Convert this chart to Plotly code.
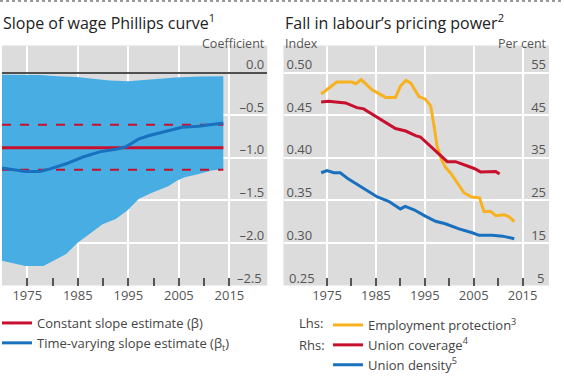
import plotly.graph_objects as go

# ---------------- Data ----------------
# Left panel: slope of wage Phillips curve
tv_years = [1970, 1972, 1974.6, 1977.5, 1979.5, 1982.7, 1986, 1989.3, 1992.5, 1994.5, 1997, 1999, 2002.3, 2005.6, 2008.9, 2012, 2013.8]
tv_vals = [-1.12, -1.14, -1.16, -1.16, -1.13, -1.07, -0.99, -0.93, -0.90, -0.87, -0.78, -0.74, -0.69, -0.64, -0.63, -0.60, -0.59]

band_upper_years = [1970, 1977.6, 1981, 1984.7, 1988, 1991.3, 1995, 1997.1, 2001, 2004.3, 2009, 2013.8]
band_upper_vals = [-0.025, -0.027, -0.04, -0.05, -0.07, -0.09, -0.10, -0.09, -0.07, -0.055, -0.045, -0.04]

band_lower_years = [1970, 1972, 1974.6, 1978.2, 1980.1, 1982.7, 1984.9, 1987.3, 1989.9, 1992.5, 1994.8, 1997.1, 1999.7, 2003, 2004.6, 2006, 2008.9, 2011.5, 2013.8]
band_lower_vals = [-2.21, -2.24, -2.27, -2.27, -2.21, -2.13, -2.0, -1.90, -1.78, -1.72, -1.62, -1.48, -1.41, -1.33, -1.27, -1.23, -1.19, -1.15, -1.13]

const_years = [1970, 2013.8]
const_beta = -0.88
const_upper = -0.61
const_lower = -1.14

# Right panel: labour's pricing power
ep_years = [1973.8, 1975.3, 1977, 1980.1, 1980.9, 1982, 1984.2, 1987, 1989, 1990, 1991.1, 1992.1, 1993.8, 1995.1, 1996.2, 1996.9, 1997.5, 1998.4, 1999.2, 2000.3, 2001.6, 2003, 2004.6, 2006.2, 2007.1, 2008.5, 2009.5, 2011.2, 2012.2, 2013.3]
ep_vals = [0.475, 0.482, 0.489, 0.489, 0.487, 0.492, 0.480, 0.471, 0.471, 0.484, 0.491, 0.488, 0.472, 0.469, 0.461, 0.437, 0.414, 0.398, 0.389, 0.382, 0.371, 0.359, 0.354, 0.353, 0.337, 0.337, 0.332, 0.333, 0.331, 0.325]

uc_years = [1973.8, 1975.3, 1978.8, 1981.1, 1982.5, 1985.6, 1989, 1991.1, 1993.1, 1994.1, 1995.8, 1997.9, 1999.6, 2001.3, 2003, 2005.1, 2006.4, 2008.1, 2009.5, 2010.3]
uc_vals = [48.1, 48.3, 47.9, 46.8, 46.5, 44.4, 41.9, 41.3, 40.2, 39.9, 38.1, 35.8, 34.1, 34.1, 33.4, 32.5, 31.7, 31.8, 31.8, 31.2]

ud_years = [1973.8, 1975, 1976.4, 1977.7, 1979.4, 1982.5, 1985.3, 1987.6, 1990, 1991, 1992.8, 1995.1, 1997.2, 1999.2, 2002, 2004.7, 2006.1, 2008.8, 2010.9, 2013.3]
ud_vals = [31.5, 32.0, 31.5, 31.5, 30.0, 27.8, 25.8, 24.8, 23.0, 23.6, 22.8, 21.3, 20.1, 19.5, 18.3, 17.4, 16.8, 16.8, 16.6, 16.0]

left_yticks = [0.0, -0.5, -1.0, -1.5, -2.0, -2.5]
left_yticktext = ["0.0", "–0.5", "–1.0", "–1.5", "–2.0", "–2.5"]
right_lticks = [0.50, 0.45, 0.40, 0.35, 0.30, 0.25]
right_lticktext = ["0.50", "0.45", "0.40", "0.35", "0.30", "0.25"]
right_rticks = [55, 45, 35, 25, 15, 5]

# ---------------- Style ----------------
FONT = "Open Sans"
BAND = "rgb(72,173,226)"
BLUE = "rgb(24,112,190)"
RED = "rgb(200,16,46)"
ORANGE = "rgb(248,178,32)"
BG = "#DCDCDC"
TXT = "#444444"
AX = "#555555"

W, H = 564, 380
def px(x):
    return x / W
def py(y):
    return 1 - y / H

fig = go.Figure()

# band
fig.add_trace(go.Scatter(
    x=band_upper_years + band_lower_years[::-1],
    y=band_upper_vals + band_lower_vals[::-1],
    fill="toself", fillcolor=BAND, line=dict(width=0), mode="lines",
    showlegend=False, hoverinfo="skip", xaxis="x", yaxis="y"))

# constant slope with dashed bounds
for v in (const_upper, const_lower):
    fig.add_trace(go.Scatter(x=const_years, y=[v, v], mode="lines",
                             line=dict(color=RED, width=2, dash="dash"),
                             showlegend=False, xaxis="x", yaxis="y"))
fig.add_trace(go.Scatter(x=const_years, y=[const_beta, const_beta], mode="lines",
                         line=dict(color=RED, width=3),
                         name="Constant slope estimate (β)", legend="legend",
                         xaxis="x", yaxis="y"))
fig.add_trace(go.Scatter(x=tv_years, y=tv_vals, mode="lines",
                         line=dict(color=BLUE, width=3),
                         name="Time-varying slope estimate (β<sub>t</sub>)", legend="legend",
                         xaxis="x", yaxis="y"))

# right panel
fig.add_trace(go.Scatter(x=ep_years, y=ep_vals, mode="lines",
                         line=dict(color=ORANGE, width=3),
                         name="Employment protection<sup>3</sup>", legend="legend2",
                         xaxis="x2", yaxis="y2"))
fig.add_trace(go.Scatter(x=uc_years, y=uc_vals, mode="lines",
                         line=dict(color=RED, width=3),
                         name="Union coverage<sup>4</sup>", legend="legend2",
                         xaxis="x2", yaxis="y3"))
fig.add_trace(go.Scatter(x=ud_years, y=ud_vals, mode="lines",
                         line=dict(color=BLUE, width=3),
                         name="Union density<sup>5</sup>", legend="legend2",
                         xaxis="x2", yaxis="y3"))

ydom = [py(285.5), py(45.5)]
tickfont = dict(family=FONT, size=13, color=AX)
SHIFT = -8

xcommon = dict(showline=False, zeroline=False, gridcolor="white", gridwidth=1.5,
               ticks="inside", ticklen=8, tickwidth=1.5, tickcolor=AX,
               dtick=10, tick0=1975, tickfont=tickfont, automargin=False,
               minor=dict(dtick=5, tick0=1970, ticks="inside", ticklen=8,
                          tickwidth=1.5, tickcolor=AX, showgrid=False))

fig.update_layout(
    width=W, height=H, margin=dict(l=0, r=0, t=0, b=0, autoexpand=False),
    paper_bgcolor="white", plot_bgcolor=BG,
    font=dict(family=FONT, color=TXT),
    xaxis=dict(domain=[px(2), px(267.3)], anchor="y", range=[1970, 2022.5], **xcommon),
    yaxis=dict(domain=ydom, anchor="x", side="right", range=[-2.5, 0.32],
               tickvals=left_yticks[:-1], ticktext=left_yticktext[:-1], automargin=False,
               ticklabelposition="inside", ticklabelshift=SHIFT, ticks="",
               gridcolor="white", gridwidth=1.5, tickfont=tickfont,
               zeroline=True, zerolinecolor="#505050", zerolinewidth=2, showline=False),
    xaxis2=dict(domain=[px(283.5), px(549)], anchor="y2", range=[1966.1, 2020.4], **xcommon),
    yaxis2=dict(domain=ydom, anchor="x2", side="left", range=[0.25, 0.532],
                tickvals=right_lticks[:-1], ticktext=right_lticktext[:-1], automargin=False,
                ticklabelposition="inside", ticklabelshift=SHIFT, ticks="",
                gridcolor="white", gridwidth=1.5, tickfont=tickfont,
                zeroline=False, showline=False),
    yaxis3=dict(overlaying="y2", anchor="x2", side="right", range=[5, 61.4],
                tickvals=right_rticks[:-1], ticklabelposition="inside", ticklabelshift=SHIFT,
                automargin=False,
                ticks="", showgrid=False, zeroline=False, showline=False, tickfont=tickfont),
    legend=dict(x=px(-3), y=py(308), xanchor="left", yanchor="top",
                bgcolor="rgba(0,0,0,0)", font=dict(family=FONT, size=13, color=TXT),
                tracegroupgap=0, itemwidth=30),
    legend2=dict(x=px(328), y=0, xanchor="left", yanchor="bottom",
                 bgcolor="rgba(0,0,0,0)", font=dict(family=FONT, size=13, color=TXT),
                 tracegroupgap=0, itemwidth=30),
)

ann = [
    dict(text="Slope of wage Phillips curve<sup>1</sup>", x=px(1), y=py(22), xanchor="left",
         font=dict(size=16, color="#222222")),
    dict(text="Fall in labour’s pricing power<sup>2</sup>", x=px(283), y=py(22), xanchor="left",
         font=dict(size=16, color="#222222")),
    dict(text="Coefficient", x=px(267), y=py(43), xanchor="right", font=dict(size=12.5, color=AX)),
    dict(text="Index", x=px(283), y=py(43), xanchor="left", font=dict(size=12.5, color=AX)),
    dict(text="Per cent", x=px(549), y=py(43), xanchor="right", font=dict(size=12.5, color=AX)),
    dict(text="Lhs:", x=px(297), y=py(323), xanchor="left", font=dict(size=13, color=TXT)),
    dict(text="Rhs:", x=px(297), y=py(345), xanchor="left", font=dict(size=13, color=TXT)),
]
for a in ann:
    a.update(xref="paper", yref="paper", yanchor="middle", showarrow=False,
             font=dict(family=FONT, **a["font"]))

# bottom-most axis labels (drawn as annotations so they are not hidden at the edge)
ann += [
    dict(text=left_yticktext[-1], xref="x domain", x=1, xanchor="right", xshift=-3,
         yref="y", y=left_yticks[-1], yanchor="middle", yshift=-SHIFT,
         showarrow=False, font=tickfont),
    dict(text=right_lticktext[-1], xref="x2 domain", x=0, xanchor="left", xshift=3,
         yref="y2", y=right_lticks[-1], yanchor="middle", yshift=-SHIFT,
         showarrow=False, font=tickfont),
    dict(text=str(right_rticks[-1]), xref="x2 domain", x=1, xanchor="right", xshift=-3,
         yref="y3", y=right_rticks[-1], yanchor="middle", yshift=-SHIFT,
         showarrow=False, font=tickfont),
]
fig.update_layout(annotations=ann)

fig.add_shape(type="line", xref="paper", yref="paper", x0=0, x1=1, y0=py(1), y1=py(1),
              line=dict(color="#9a9a9a", width=2, dash="dot"))

fig.write_html("out.html", config={"displayModeBar": False},
               post_script="document.body.style.margin='0';document.body.style.padding='0';")
